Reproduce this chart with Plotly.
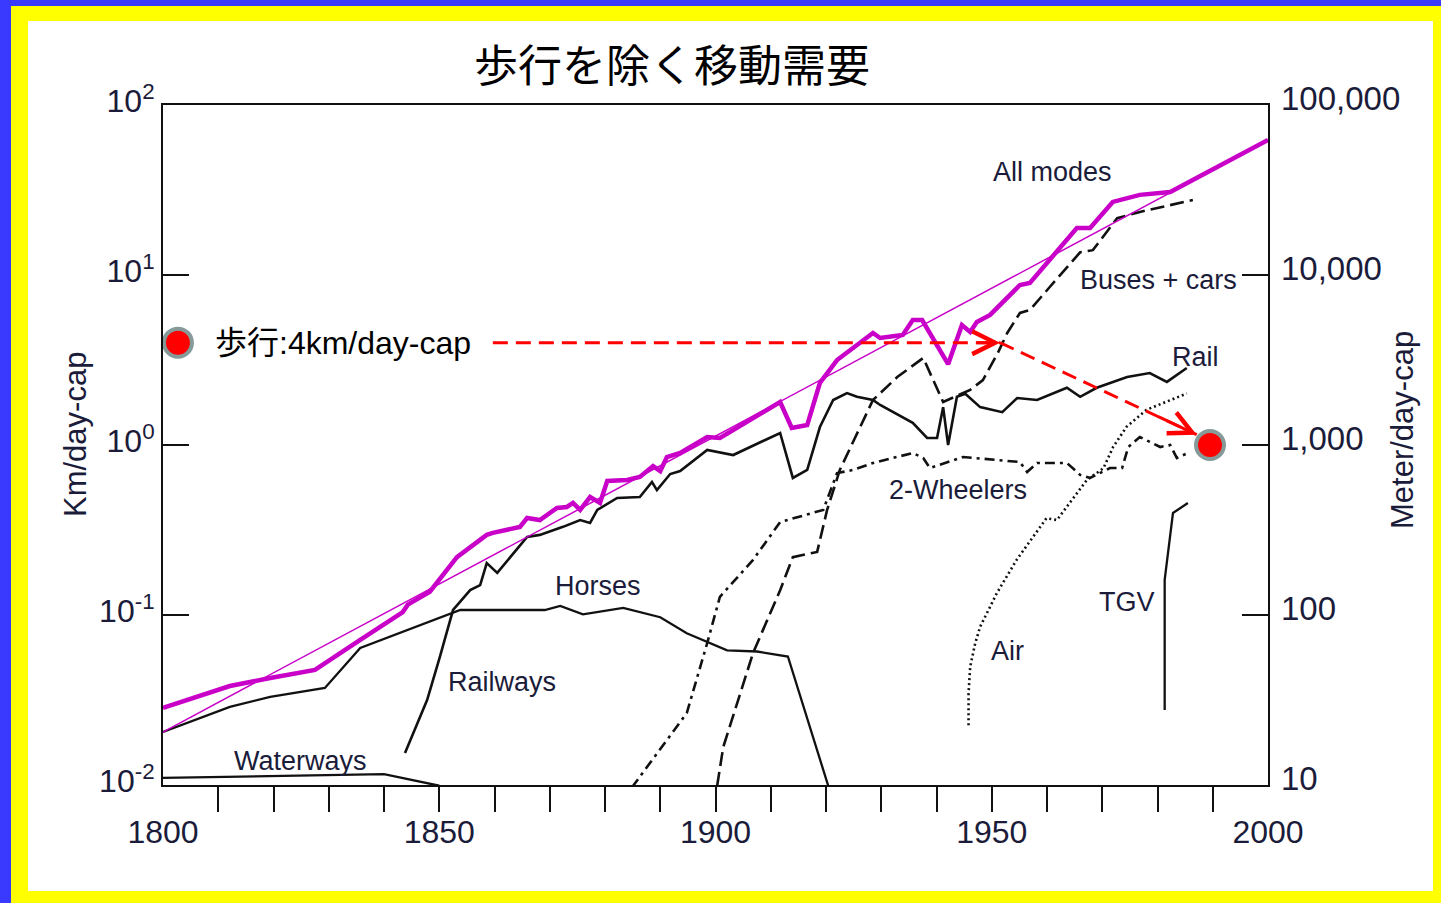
import math
import plotly.graph_objects as go

# ---------------------------------------------------------------
# Per-capita travel distance by mode (km per day per capita)
# ---------------------------------------------------------------
all_years = [1800, 1812.1, 1819.4, 1827.5, 1835.7, 1843.4, 1844.3, 1848.3, 1853.2, 1858.6,
             1859.7, 1864.6, 1865.9, 1868.2, 1871.3, 1873.1, 1874.2, 1875.5, 1877.3, 1879.1,
             1880.4, 1884.0, 1886.3, 1888.7, 1890.0, 1891.2, 1893.6, 1898.5, 1900.8, 1911.7,
             1913.8, 1916.6, 1918.9, 1922.0, 1928.5, 1929.8, 1933.9, 1935.7, 1937.4, 1942.1,
             1944.6, 1946.1, 1947.3, 1949.7, 1955.1, 1956.9, 1965.4, 1967.8, 1971.9, 1976.8,
             1982.3, 2000]
all_km = [0.0284, 0.0382, 0.0426, 0.0475, 0.0713, 0.104, 0.115, 0.137, 0.219, 0.296,
          0.304, 0.330, 0.372, 0.362, 0.426, 0.432, 0.456, 0.415, 0.494, 0.456,
          0.614, 0.622, 0.648, 0.752, 0.703, 0.850, 0.897, 1.115, 1.10, 1.79,
          1.26, 1.31, 2.32, 3.16, 4.56, 4.26, 4.44, 5.43, 5.43, 2.99,
          5.08, 4.62, 5.29, 5.82, 8.73, 8.97, 18.9, 18.9, 26.9, 29.6,
          30.8, 62.3]

trend_years = [1800, 2000]
trend_km = [0.0205, 62.0]

horse_years = [1800, 1812.1, 1819.4, 1829.3, 1835.7, 1845.2, 1853.8, 1869.1, 1871.9, 1876.0,
               1883.3, 1890.0, 1894.8, 1902.1, 1907.5, 1913.1, 1920.4]
horse_km = [0.0205, 0.0288, 0.033, 0.0372, 0.064, 0.084, 0.107, 0.107, 0.113, 0.101,
            0.110, 0.097, 0.078, 0.062, 0.061, 0.057, 0.0099]

water_years = [1800, 1815, 1830, 1840, 1850]
water_km = [0.0110, 0.0112, 0.0114, 0.0116, 0.0099]

rail_years = [1843.8, 1847.8, 1850.1, 1852.5, 1855.6, 1857.4, 1858.6, 1860.5, 1865.9, 1868.2,
              1872.4, 1875.5, 1877.3, 1878.6, 1882.2, 1886.3, 1888.5, 1889.4, 1891.8, 1893.6,
              1898.5, 1903.2, 1911.7, 1914.0, 1916.6, 1918.9, 1921.3, 1923.8, 1925.6, 1928.5,
              1929.8, 1935.7, 1938.3, 1940.1, 1941.2, 1942.1, 1943.7, 1945.2, 1947.9, 1951.9,
              1954.6, 1958.2, 1963.6, 1966.0, 1969.0, 1974.5, 1978.6, 1981.7, 1985.3]
rail_km = [0.0154, 0.0316, 0.0566, 0.107, 0.140, 0.150, 0.202, 0.177, 0.288, 0.296,
           0.330, 0.362, 0.348, 0.415, 0.488, 0.494, 0.606, 0.543, 0.675, 0.703,
           0.935, 0.873, 1.177, 0.64, 0.713, 1.276, 1.84, 2.02, 1.92, 1.84,
           1.72, 1.35, 1.10, 1.10, 1.67, 1.0, 1.92, 2.0, 1.67, 1.56,
           1.89, 1.84, 2.17, 1.92, 2.17, 2.51, 2.65, 2.35, 2.84]

bus_years = [1900.3, 1901.4, 1906.8, 1911.7, 1914.0, 1918.4, 1920.2, 1922.5, 1928.5, 1932.9,
             1937.6, 1941.2, 1946.1, 1948.4, 1951.1, 1952.8, 1955.1, 1956.9, 1960.5, 1966.0,
             1968.3, 1972.7, 1976.8, 1986.4]
bus_km = [0.0099, 0.0167, 0.0598, 0.140, 0.219, 0.235, 0.415, 0.713, 1.84, 2.51,
          3.25, 1.79, 2.11, 2.41, 3.48, 4.56, 5.98, 6.22, 8.50, 13.6,
          14.0, 21.6, 23.5, 27.6]

wheel_years = [1884.9, 1894.8, 1898.5, 1900.8, 1906.8, 1911.7, 1919.5, 1922.0, 1924.9, 1928.5,
               1935.7, 1937.6, 1938.8, 1944.8, 1955.1, 1956.4, 1958.2, 1963.6, 1966.0, 1967.8,
               1971.4, 1973.6, 1974.7, 1976.8, 1980.5, 1982.3, 1983.5, 1985.9]
wheel_km = [0.0097, 0.0265, 0.0684, 0.128, 0.211, 0.352, 0.415, 0.684, 0.713, 0.784,
            0.897, 0.839, 0.732, 0.850, 0.794, 0.694, 0.784, 0.784, 0.667, 0.640,
            0.732, 0.732, 0.973, 1.115, 0.973, 1.0, 0.839, 0.910]

air_years = [1945.8, 1945.8, 1946.1, 1947.0, 1947.9, 1949.4, 1950.9, 1954.5, 1959.9, 1961.8,
             1965.4, 1967.2, 1970.2, 1972.0, 1974.4, 1978.0, 1985.3]
air_km = [0.0225, 0.0346, 0.0497, 0.0681, 0.0853, 0.107, 0.134, 0.211, 0.371, 0.362,
          0.520, 0.622, 0.729, 0.977, 1.28, 1.61, 2.01]

tgv_years = [1981.3, 1981.3, 1982.8, 1985.5]
tgv_km = [0.0276, 0.161, 0.398, 0.456]

# walking reference: 4 km/day per capita, and the level it points down to
walk_km = 4.0
walk_end_km = 1.0
walk_level_years = [1859.7, 1951.5]
walk_drop_years = [1951.5, 1987.1]
walk_drop_km = [walk_km, 1.15]
walk_dot_years = [1802.7, 1989.5]
walk_dot_km = [walk_km, walk_end_km]

# axis ticks
x_minor_ticks = list(range(1810, 2000, 10))
x_label_vals = [1800, 1850, 1900, 1950, 2000]
x_label_text = ["1800", "1850", "1900", "1950", "2000"]
km_tick_vals = [0.01, 0.1, 1, 10, 100]
km_tick_text = ["10<sup>-2</sup>", "10<sup>-1</sup>", "10<sup>0</sup>", "10<sup>1</sup>", "10<sup>2</sup>"]
m_tick_vals = [10, 100, 1000, 10000, 100000]
m_tick_text = ["10", "100", "1,000", "10,000", "100,000"]

# ---------------------------------------------------------------
W, H = 1441, 903
PL, PR, PT, PB = 163, 1268, 105, 785  # plot box in pixels


def px_x(p):
    return (p - PL) / (PR - PL)


def px_y(p):
    return (PB - p) / (PB - PT)


INK = "#111111"
LABEL = "#1b1b3a"
MAGENTA = "#c800c8"
SANS = "Liberation Sans, Arial, sans-serif"
JP = "Liberation Sans, Noto Sans CJK JP, sans-serif"

fig = go.Figure()


def series(x, y, dash="solid", width=2.3, color=INK):
    fig.add_trace(go.Scatter(x=x, y=y, mode="lines", hoverinfo="skip",
                             line=dict(color=color, width=width, dash=dash)))


series(water_years, water_km)
series(horse_years, horse_km)
series(rail_years, rail_km, width=2.6)
series(bus_years, bus_km, dash="14px,6px", width=2.6)
series(wheel_years, wheel_km, dash="10px,5px,3px,5px", width=2.6)
series(air_years, air_km, dash="2px,3px", width=2.6)
series(tgv_years, tgv_km)
series(trend_years, trend_km, width=1.5, color=MAGENTA)
series(all_years, all_km, width=4.5, color=MAGENTA)

# walking arrows
RED = "#ff0000"
series(walk_level_years, [walk_km, walk_km], dash="15px,8px", width=3, color=RED)
series(walk_drop_years, walk_drop_km, dash="15px,8px", width=3, color=RED)
fig.add_trace(go.Scatter(x=walk_dot_years, y=walk_dot_km, mode="markers", hoverinfo="skip",
                         cliponaxis=False,
                         marker=dict(size=28, color=RED, line=dict(color="#869a9a", width=4))))

# dummy traces so the secondary axes get drawn
fig.add_trace(go.Scatter(x=[1800], y=[1], xaxis="x2", yaxis="y", mode="markers",
                         marker=dict(opacity=0), hoverinfo="skip"))
fig.add_trace(go.Scatter(x=[1800], y=[1000], xaxis="x", yaxis="y2", mode="markers",
                         marker=dict(opacity=0), hoverinfo="skip"))


def arrow_head(x0, y0, x1, y1, frac=0.9):
    """Open chevron at (x1, y1) pointing along the segment from (x0, y0)."""
    lx0, lx1 = math.log10(y0), math.log10(y1)
    tx = x0 + (x1 - x0) * frac
    ty = lx0 + (lx1 - lx0) * frac
    return dict(x=x1, y=math.log10(y1), ax=tx, ay=ty, axref="x", ayref="y",
                xref="x", yref="y", text="", showarrow=True, arrowhead=5,
                arrowsize=1.5, arrowwidth=3, arrowcolor=RED, standoff=0)


annotations = [
    arrow_head(walk_level_years[0], walk_km, walk_level_years[1], walk_km, 0.95),
    arrow_head(walk_drop_years[0], walk_drop_km[0], walk_drop_years[1], walk_drop_km[1], 0.8),
    dict(x=px_x(213), y=math.log10(walk_km), xref="paper", yref="y", xanchor="left",
         yanchor="middle", showarrow=False, text="歩行:4km/day-cap",
         font=dict(family=JP, size=32, color="#000000")),
    dict(x=px_x(75), y=px_y(435), xref="paper", yref="paper", textangle=-90,
         xanchor="center", yanchor="middle",
         showarrow=False, text="Km/day-cap", font=dict(family=SANS, size=31, color=LABEL)),
    dict(x=px_x(1402), y=px_y(430), xref="paper", yref="paper", textangle=-90,
         xanchor="center", yanchor="middle",
         showarrow=False, text="Meter/day-cap", font=dict(family=SANS, size=31, color=LABEL)),
]

series_labels = [
    ("All modes", 1052, 172), ("Buses + cars", 1158, 280), ("Rail", 1195, 357),
    ("2-Wheelers", 958, 490), ("Horses", 598, 586), ("Railways", 502, 682),
    ("Waterways", 300, 761), ("TGV", 1127, 602), ("Air", 1008, 651),
]
for txt, cx, cy in series_labels:
    annotations.append(dict(x=px_x(cx), y=px_y(cy), xref="paper", yref="paper",
                            xanchor="center", yanchor="middle",
                            showarrow=False, text=txt,
                            font=dict(family=SANS, size=27, color=LABEL)))

# slide frame: blue outer edge, yellow band, white card
shapes = [
    dict(type="rect", xref="paper", yref="paper", layer="below", line=dict(width=0),
         x0=px_x(11), x1=px_x(W + 2), y0=px_y(H + 2), y1=px_y(6), fillcolor="#ffff00"),
    dict(type="rect", xref="paper", yref="paper", layer="below", line=dict(width=0),
         x0=px_x(28), x1=px_x(1433), y0=px_y(891), y1=px_y(21), fillcolor="#ffffff"),
]

axis_font = dict(family=SANS, size=32, color=LABEL)

fig.update_layout(
    width=W, height=H,
    margin=dict(l=PL, r=W - PR, t=PT, b=H - PB, pad=0),
    paper_bgcolor="#3a3aff",
    plot_bgcolor="rgba(0,0,0,0)",
    showlegend=False,
    title=dict(text="歩行を除く移動需要", x=672 / W, y=1 - 67 / H, xref="container",
               yref="container", xanchor="center", yanchor="middle",
               font=dict(family="Noto Sans CJK JP", size=44, color="#000000")),
    xaxis=dict(range=[1800, 2000], showgrid=False, zeroline=False, showline=True,
               linecolor=INK, linewidth=2, mirror=True, ticks="outside", ticklen=25,
               tickwidth=2, tickcolor=INK, tickvals=x_minor_ticks, showticklabels=False,
               automargin=False),
    xaxis2=dict(range=[1800, 2000], overlaying="x", side="bottom", showgrid=False,
                zeroline=False, showline=False, ticks="outside", ticklen=19,
                tickcolor="rgba(0,0,0,0)", tickvals=x_label_vals, ticktext=x_label_text,
                tickfont=axis_font, automargin=False),
    yaxis=dict(type="log", range=[-2, 2], showgrid=False, zeroline=False, showline=True,
               linecolor=INK, linewidth=2, mirror=True, ticks="inside", ticklen=26,
               tickwidth=2, tickcolor=INK, tickvals=km_tick_vals, ticktext=km_tick_text,
               tickfont=axis_font, automargin=False, ticklabelshift=-4),
    yaxis2=dict(type="log", range=[1, 5], overlaying="y", side="right", showgrid=False,
                zeroline=False, showline=False, ticks="inside", ticklen=26, tickwidth=2,
                tickcolor=INK, tickvals=m_tick_vals, ticktext=m_tick_text,
                tickfont=dict(family=SANS, size=33, color=LABEL), automargin=False,
                ticklabelstandoff=12, ticklabelshift=-7),
    shapes=shapes,
    annotations=annotations,
)

fig.write_html("out.html")
